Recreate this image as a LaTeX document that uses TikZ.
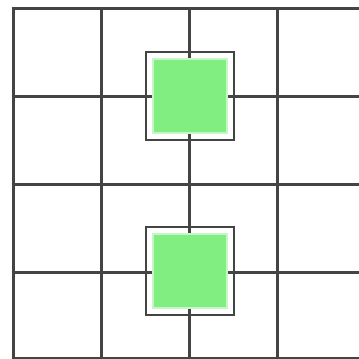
\documentclass[tikz,border=0pt]{standalone}
\definecolor{gridc}{RGB}{68,68,68}
\definecolor{greenfill}{RGB}{128,238,128}
\definecolor{greenedge}{RGB}{200,245,200}
\tikzset{
  gridline/.style={draw=gridc,line width=3pt},
  framebox/.style={draw=gridc,line width=2.2pt,minimum size=88pt,inner sep=0pt},
  greenbox/.style={fill=greenfill,draw=greenedge,line width=1.5pt,minimum size=74pt,inner sep=0pt}
}
\begin{document}
\begin{tikzpicture}[x=1pt,y=-1pt]
\useasboundingbox (0,0) rectangle (359,359);
\fill[white] (0,0) rectangle (359,359);
\foreach \x in {13,101,189,277,365} \draw[gridline] (\x,6.5) -- (\x,370);
\foreach \y in {8,96,184,272,358.5} \draw[gridline] (11.5,\y) -- (370,\y);
\node[framebox] (f1) at (190,96) {};
\node[greenbox] (g1) at (190,96) {};
\node[framebox] (f2) at (190,271) {};
\node[greenbox] (g2) at (190,271) {};
\end{tikzpicture}
\end{document}
